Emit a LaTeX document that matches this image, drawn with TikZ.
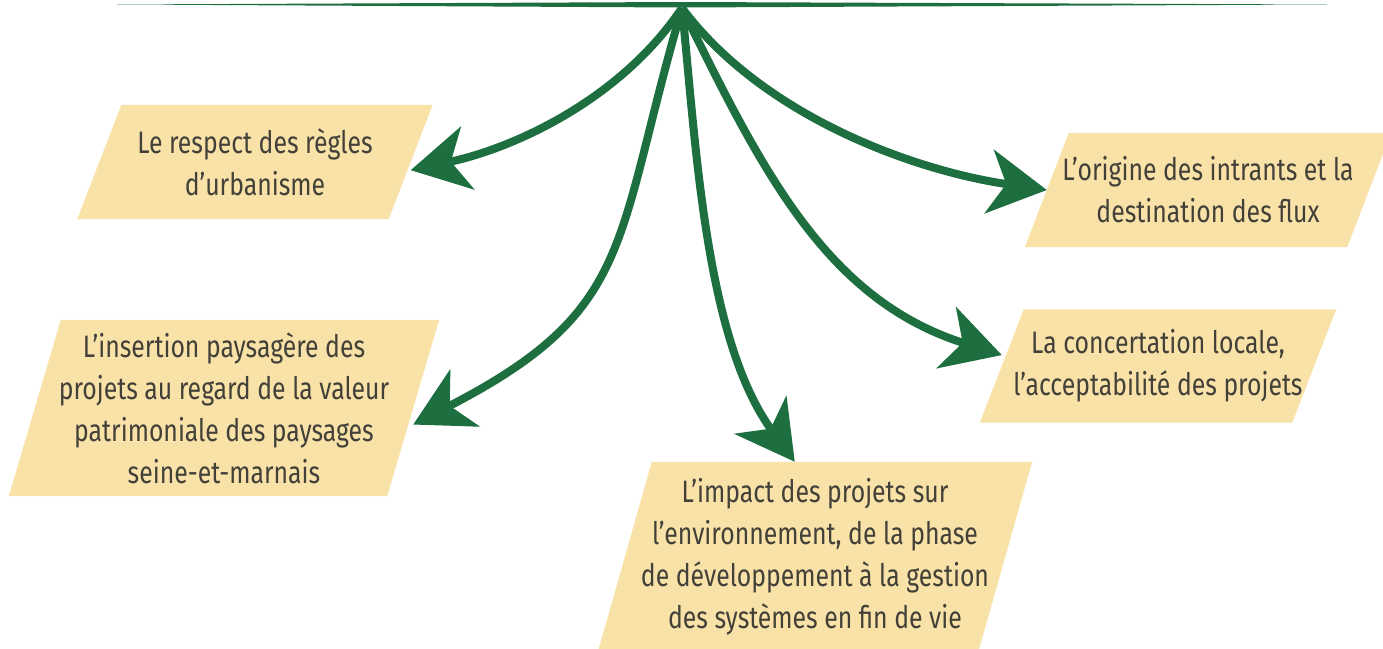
\documentclass[tikz,border=0pt]{standalone}
\usepackage{fontspec}
\setmainfont{Fira Sans}[FakeStretch=0.80]
\usetikzlibrary{arrows.meta, backgrounds}

\definecolor{leafgreen}{RGB}{29,111,64}
\definecolor{sand}{RGB}{249,226,168}
\definecolor{ink}{RGB}{66,64,56}

\begin{document}
\begin{tikzpicture}[x=1pt, y=-1pt,
    zone/.style={text=ink, align=center, inner sep=0pt, font=\fontsize{31}{42}\selectfont},
    branch/.style={draw=leafgreen, line width=8pt, -{Stealth[length=58pt, width=64pt, inset=17pt]}}]
  \path[use as bounding box] (0,0) rectangle (1383,648);
  \clip (0,0) rectangle (1383,648);

  % top bar
  \fill[leafgreen] (117,4.5) -- (682,2) -- (1327,4.5) -- (682,7.5) -- cycle;
  \coordinate (hub) at (682,8);

  \node[zone, minimum width=311, minimum height=114] (regles) at (255,162) {Le respect des règles\\d’urbanisme};
  \node[zone, minimum width=378, minimum height=176] (paysage) at (224,408) {L’insertion paysagère des\\projets au regard de la valeur\\patrimoniale des paysages\\seine-et-marnais};
  \node[zone, minimum width=380, minimum height=190] (impact) at (815,557) {L’impact des projets sur\\l’environnement, de la phase\\de développement à la gestion\\des systèmes en fin de vie};
  \node[zone, minimum width=322, minimum height=114] (flux) at (1208,190) {L’origine des intrants et la\\destination des flux};
  \node[zone, minimum width=312, minimum height=113] (concert) at (1158,366) {La concertation locale,\\l’acceptabilité des projets};

  \begin{scope}[on background layer]
    \foreach \n/\d in {regles/22, paysage/26, impact/27, flux/22, concert/22}
      \fill[sand] ([xshift=-\d]\n.south west) -- ([xshift=-\d]\n.south east)
        -- ([xshift=\d]\n.north east) -- ([xshift=\d]\n.north west) -- cycle;
  \end{scope}

  \draw[branch] (hub) .. controls (621,99) and (515,148) .. (regles.-3);
  \draw[branch] (hub) .. controls (613,245) and (636,310) .. (paysage.-5);
  \draw[branch] (hub) .. controls (696,144) and (705,339) .. (impact.102);
  \draw[branch] (hub) .. controls (763,173) and (827,300) .. (concert.176);
  \draw[branch] (hub) .. controls (761,114) and (910,170) .. (flux.west);
\end{tikzpicture}
\end{document}
